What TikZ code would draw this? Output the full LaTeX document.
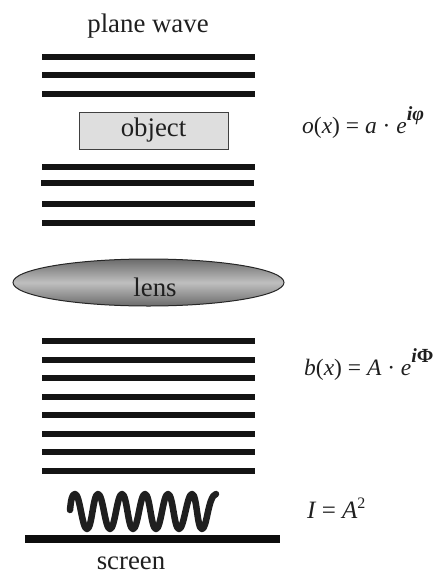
\documentclass[tikz,border=0pt]{standalone}
\usepackage{fontspec}
\setmainfont{Liberation Serif}
\usetikzlibrary{shapes.geometric}
\tikzset{
  x=1pt,y=-1pt,
  beam/.style={line width=5.5pt,color=black!92},
  label/.style={inner sep=0pt,text=black!88,font=\fontsize{26.8}{28}\selectfont},
  eqn/.style={inner sep=0pt,anchor=base west,text=black!88,font=\fontsize{23.5}{25}\selectfont\itshape},
}
\newcommand{\rmpart}[1]{{\upshape #1}}
\begin{document}
\begin{tikzpicture}
\useasboundingbox (0,0) rectangle (435,573);
\node[label] (plane) at (148,26) {plane wave};
\foreach \n/\y in {a/57,b/75,c/94,d/167,f/204,g/223,h/341,i/360,j/378,k/397,l/415,m/434,n/452,o/471}
  \draw[beam] (42,\y) -- (255,\y);
\draw[beam] (41,183) -- (254,183);
\node[draw=black!75,line width=1pt,fill=black!13,minimum width=149pt,minimum height=37pt,inner sep=0pt,label] (obj) at (153.5,130.5) {object};
\node[ellipse,draw=black!85,line width=1pt,minimum width=271pt,minimum height=47pt,inner sep=0pt,
  top color=black!58,bottom color=black!58,middle color=black!25] (lens) at (148.5,282.5) {};
\node[label] (lenstext) at (155,287) {lens};
\draw[line width=6.5pt,color=black!88,line cap=round,line join=round]
  (70,510) .. controls (71,500) and (72,494) .. (75,494)
  .. controls (80,494) and (82,529) .. (87,529) .. controls (92,529) and (93,494) .. (98,494)
  .. controls (103,494) and (105,529) .. (110,529) .. controls (115,529) and (117,494) .. (122,494)
  .. controls (127,494) and (128,529) .. (133,529) .. controls (138,529) and (140,494) .. (145,494)
  .. controls (150,494) and (151,529) .. (156,529) .. controls (161,529) and (163,494) .. (168,494)
  .. controls (173,494) and (174,529) .. (179,529) .. controls (184,529) and (187,494) .. (192,494)
  .. controls (197,494) and (197,529) .. (202,529) .. controls (207,529) and (208,496) .. (216,494);
\draw[line width=8.5pt,color=black!95] (25,539) -- (280,539);
\node[label] (screen) at (131,563.5) {screen};
\node[eqn] (eqo) at (302,133) {o\rmpart{(}x\rmpart{) = }a\rmpart{ · }e\raisebox{13pt}{\fontsize{20}{22}\selectfont\bfseries iφ}};
\node[eqn] (eqb) at (304,375) {b\rmpart{(}x\rmpart{) = }A\rmpart{ · }e\raisebox{13pt}{\fontsize{20}{22}\selectfont\bfseries i\rmpart{Φ}}};
\node[eqn] (eqi) at (307,518) {\fontsize{25}{26}\selectfont I\rmpart{ = }A\raisebox{10pt}{\rmpart{\fontsize{16}{16}\selectfont 2}}};
\end{tikzpicture}
\end{document}
